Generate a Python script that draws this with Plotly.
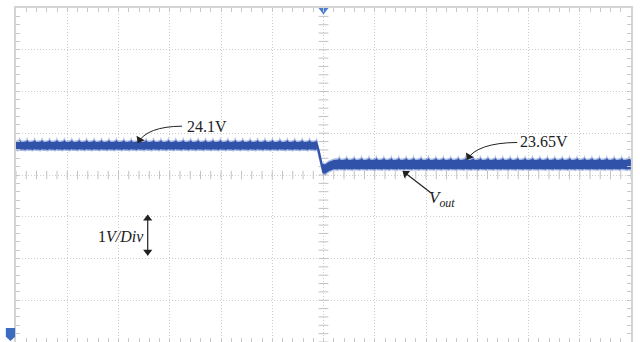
import math
import plotly.graph_objects as go

# ---- scope settings (12 x 8 divisions, 1 V/div) ----
x_divs = 12
y_center = 23.4          # volts at the centre graticule line
y_range = [y_center - 4, y_center + 4]

# ---- output voltage trace ----
v_before = 24.1          # level before the load step
v_after = 23.65          # level after the load step
t_step = [5.88, 5.93, 5.98, 6.03, 6.10, 6.20]          # div
v_step = [24.10, 23.85, 23.56, 23.54, 23.60, 23.65]    # V
band_half = [0.09, 0.11]                               # trace thickness (V)

# one switching-ripple period, as seen on the trace
ripple_period = 0.145                                  # div
ripple_frac = [0.0, 0.28, 0.42, 0.50, 0.58, 0.74]
ripple_top = [0.0, 0.01, 0.035, 0.09, 0.035, 0.0]
ripple_bot = [0.0, -0.01, 0.0, 0.01, 0.0, -0.005]

# ---- labels ----
lbl_before = "24.1V"
lbl_after = "23.65V"
lbl_vout = "<i>V</i><sub><i>out</i></sub>"
lbl_scale = "1<i>V/Div</i>"

BLUE = "#3052a8"
HALO = "rgba(100,132,208,0.55)"
GRID = "#cdcdcd"
FRAME = "#d4d4d4"
INK = "#222222"
SERIF = "Liberation Serif, Times New Roman, serif"

PX_X = 615 / x_divs      # pixels per x division
PX_Y = 334 / 8           # pixels per volt


def envelope(extra, spike):
    t, top, bot = [], [], []
    # before the step
    k = 0
    while True:
        done = False
        for f, rt, rb in zip(ripple_frac, ripple_top, ripple_bot):
            tt = (k + f) * ripple_period
            if tt >= t_step[0]:
                done = True
                break
            t.append(tt)
            top.append(v_before + band_half[0] + extra + rt * spike)
            bot.append(v_before - band_half[0] - extra + rb)
        if done:
            break
        k += 1
    # the step itself
    for i, (tt, vv) in enumerate(zip(t_step, v_step)):
        h = band_half[0] if i == 0 else band_half[1]
        t.append(tt)
        top.append(vv + h + extra)
        bot.append(vv - h - extra)
    # after the step
    k = int(t_step[-1] / ripple_period) + 1
    while True:
        done = False
        for f, rt, rb in zip(ripple_frac, ripple_top, ripple_bot):
            tt = (k + f) * ripple_period
            if tt > x_divs:
                done = True
                break
            t.append(tt)
            top.append(v_after + band_half[1] + extra + rt * spike)
            bot.append(v_after - band_half[1] - extra + rb)
        if done:
            break
        k += 1
    return t + t[::-1], top + bot[::-1]


fig = go.Figure()

# centre graticule tick marks
minor = [round(i * 0.2, 3) for i in range(int(x_divs / 0.2) + 1)]
fig.add_trace(go.Scatter(
    x=minor, y=[y_center] * len(minor), mode="markers", hoverinfo="skip",
    marker=dict(symbol="line-ns", size=6, line=dict(color="#c2c2c2", width=1))))
vminor = [y_range[0] + i * 0.2 for i in range(41)]
fig.add_trace(go.Scatter(
    x=[x_divs / 2] * len(vminor), y=vminor, mode="markers", hoverinfo="skip",
    marker=dict(symbol="line-ew", size=7, line=dict(color="#c2c2c2", width=1))))

# trace: light halo (carries the ripple spikes) then dark core
hx, hy = envelope(0.035, 1.0)
fig.add_trace(go.Scatter(x=hx, y=hy, fill="toself", fillcolor=HALO,
                         mode="lines", line=dict(width=0), hoverinfo="skip"))
cx_, cy_ = envelope(0.0, 0.55)
fig.add_trace(go.Scatter(x=cx_, y=cy_, fill="toself", fillcolor=BLUE,
                         mode="lines", line=dict(width=0), hoverinfo="skip"))

# trigger marker
fig.add_trace(go.Scatter(x=[x_divs / 2], y=[y_range[1] - 0.05], mode="markers",
                         cliponaxis=False, hoverinfo="skip",
                         marker=dict(symbol="triangle-down", size=9,
                                     color="#4a7fd0")))

# ground reference marker at the left edge
fig.add_shape(type="path", xref="paper", yref="paper",
              path="M -0.0165,0.042 L -0.0015,0.042 L -0.0015,0.016 "
                   "L -0.009,0.003 L -0.0165,0.016 Z",
              fillcolor="#3c6cc0", line=dict(width=0), layer="above")


def arrow_head(tip, dx, dy):
    """Filled head with its point at tip; (dx, dy) is the screen direction."""
    n = math.hypot(dx, dy)
    ux, uy = dx / n, dy / n
    back = 3.5  # px from tip to marker centre
    x = tip[0] - ux * back / PX_X
    y = tip[1] + uy * back / PX_Y
    ang = math.degrees(math.atan2(ux, -uy))
    fig.add_trace(go.Scatter(x=[x], y=[y], mode="markers", hoverinfo="skip",
                             cliponaxis=False,
                             marker=dict(symbol="triangle-up", size=8,
                                         angle=ang, color=INK,
                                         line=dict(width=0))))


def curved_arrow(p0, c, p1):
    fig.add_shape(type="path", xref="x", yref="y",
                  path=f"M {p0[0]},{p0[1]} Q {c[0]},{c[1]} {p1[0]},{p1[1]}",
                  line=dict(color=INK, width=1))
    arrow_head(p1, (p1[0] - c[0]) * PX_X, -(p1[1] - c[1]) * PX_Y)


def straight_arrow(p0, p1, both=False):
    fig.add_shape(type="line", xref="x", yref="y",
                  x0=p0[0], y0=p0[1], x1=p1[0], y1=p1[1],
                  line=dict(color=INK, width=1.2))
    dx = (p1[0] - p0[0]) * PX_X
    dy = -(p1[1] - p0[1]) * PX_Y
    arrow_head(p1, dx, dy)
    if both:
        arrow_head(p0, -dx, -dy)


# 24.1V callout
fig.add_annotation(x=3.72, y=24.57, text=lbl_before, showarrow=False,
                   font=dict(family=SERIF, size=16, color=INK))
curved_arrow((3.24, 24.57), (2.55, 24.56), (2.38, 24.17))

# 23.65V callout
fig.add_annotation(x=10.30, y=24.20, text=lbl_after, showarrow=False,
                   font=dict(family=SERIF, size=16, color=INK))
curved_arrow((9.78, 24.18), (9.00, 24.17), (8.80, 23.77))

# Vout callout
straight_arrow((8.10, 22.97), (7.55, 23.49))
fig.add_annotation(x=8.32, y=22.83, text=lbl_vout, showarrow=False,
                   font=dict(family=SERIF, size=17, color=INK))

# vertical scale indicator
straight_arrow((2.57, 21.48), (2.57, 22.44), both=True)
fig.add_annotation(x=2.05, y=21.92, text=lbl_scale, showarrow=False,
                   font=dict(family=SERIF, size=16, color=INK))

axis_common = dict(showticklabels=False, zeroline=False, showgrid=True,
                   gridcolor=GRID, griddash="1px,2px", gridwidth=1,
                   showline=True, linecolor=FRAME, linewidth=2, mirror="ticks",
                   ticks="inside", ticklen=4, tickcolor="#c8c8c8",
                   fixedrange=True)

fig.update_xaxes(range=[0, x_divs], dtick=1, tick0=0,
                 minor=dict(dtick=0.2, tick0=0, ticks="inside", ticklen=4,
                            tickcolor="#c8c8c8", showgrid=False),
                 **axis_common)
fig.update_yaxes(range=y_range, dtick=1, tick0=y_range[0],
                 minor=dict(dtick=0.2, tick0=y_range[0], ticks="inside",
                            ticklen=4, tickcolor="#c8c8c8", showgrid=False),
                 **axis_common)

fig.update_layout(width=640, height=342,
                  margin=dict(l=16, r=9, t=8, b=0),
                  paper_bgcolor="white", plot_bgcolor="white",
                  showlegend=False)

fig.write_html("out.html")
